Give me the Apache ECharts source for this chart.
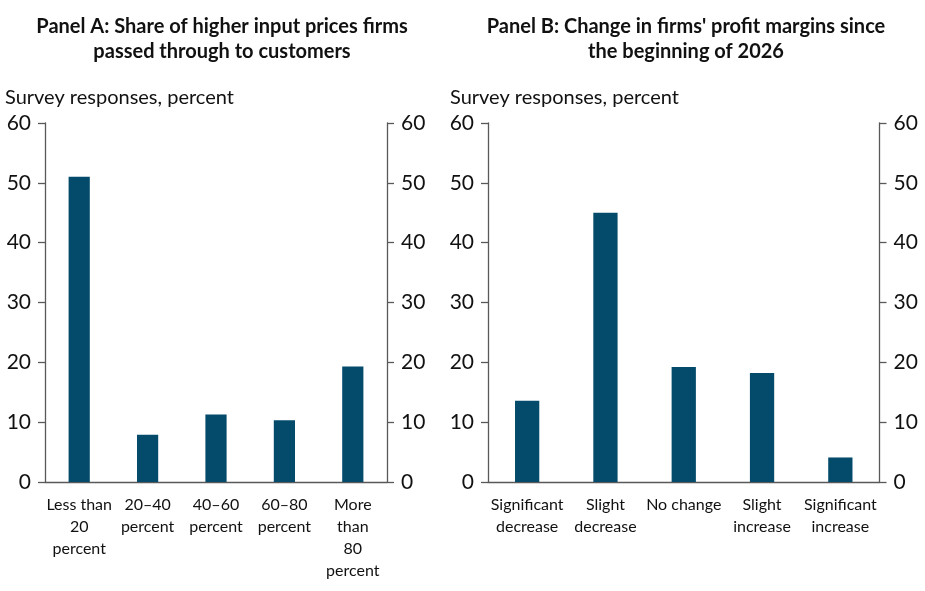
<!DOCTYPE html>
<html><head><meta charset="utf-8">
<script src="https://cdn.jsdelivr.net/npm/echarts@6/dist/echarts.min.js"></script>
<style>html,body{margin:0;padding:0;background:#fff}#c{width:925px;height:591px}</style>
</head><body><div id="c"></div>
<script>
const titleA = "Panel A: Share of higher input prices firms\npassed through to customers";
const titleB = "Panel B: Change in firms' profit margins since\nthe beginning of 2026";
const unitLabel = "Survey responses, percent";
const catsA = ["Less than\n20\npercent", "20\u201340\npercent", "40\u201360\npercent", "60\u201380\npercent", "More\nthan\n80\npercent"];
const valsA = [51.0, 7.9, 11.3, 10.3, 19.3];
const catsB = ["Significant\ndecrease", "Slight\ndecrease", "No change", "Slight\nincrease", "Significant\nincrease"];
const valsB = [13.6, 45.0, 19.2, 18.2, 4.1];
const yTicks = [0, 10, 20, 30, 40, 50, 60];

const FONT = 'Lato, "Open Sans", sans-serif';
const BAR = '#044b6b';
const AX = '#595959';

function yAx(grid, pos) {
  return {
    type: 'value', gridIndex: grid, position: pos, min: yTicks[0], max: yTicks[yTicks.length-1], interval: yTicks[1]-yTicks[0],
    axisLine: {show: true, lineStyle: {color: AX, width: 1.3}},
    axisTick: {show: true, length: 7, inside: false, lineStyle: {color: AX, width: 1.3}},
    splitLine: {show: false},
    axisLabel: {color: '#111', fontSize: 21, fontFamily: FONT, margin: 14}
  };
}
function xAx(grid, cats) {
  return {
    type: 'category', gridIndex: grid, data: cats,
    axisLine: {show: true, lineStyle: {color: AX, width: 1.3}},
    axisTick: {show: false},
    axisLabel: {color: '#111', fontSize: 16, lineHeight: 22, fontFamily: FONT, interval: 0, margin: 12}
  };
}

const chart = echarts.init(document.getElementById('c'), null, {renderer: 'canvas'});
chart.setOption({
  animation: false,
  textStyle: {fontFamily: FONT},
  title: [
    {text: titleA, left: 217, top: 9, textAlign: 'center',
     textStyle: {fontSize: 20, fontWeight: 'bold', color: '#111', lineHeight: 25, fontFamily: FONT}},
    {text: titleB, left: 681, top: 9, textAlign: 'center',
     textStyle: {fontSize: 20, fontWeight: 'bold', color: '#111', lineHeight: 25, fontFamily: FONT}},
    {text: unitLabel, left: 0, top: 83, textStyle: {fontSize: 20, fontWeight: 'normal', color: '#111', fontFamily: FONT}},
    {text: unitLabel, left: 445, top: 83, textStyle: {fontSize: 20, fontWeight: 'normal', color: '#111', fontFamily: FONT}}
  ],
  grid: [
    {left: 45, right: 538, top: 123, bottom: 109},
    {left: 488, right: 45.5, top: 123, bottom: 109}
  ],
  xAxis: [xAx(0, catsA), xAx(1, catsB)],
  yAxis: [yAx(0, 'left'), yAx(0, 'right'), yAx(1, 'left'), yAx(1, 'right')],
  series: [
    {type: 'bar', xAxisIndex: 0, yAxisIndex: 0, data: valsA, barWidth: '31%', itemStyle: {color: BAR}},
    {type: 'bar', xAxisIndex: 1, yAxisIndex: 2, data: valsB, barWidth: '31%', itemStyle: {color: BAR}}
  ]
});
</script></body></html>
